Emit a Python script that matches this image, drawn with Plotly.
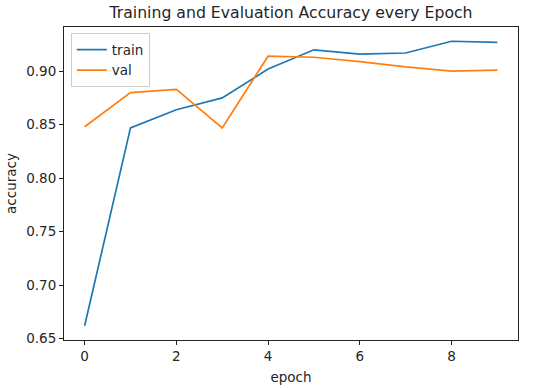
import plotly.graph_objects as go

epochs = [0, 1, 2, 3, 4, 5, 6, 7, 8, 9]
train_acc = [0.662, 0.847, 0.864, 0.875, 0.902, 0.920, 0.916, 0.917, 0.928, 0.927]
val_acc = [0.848, 0.880, 0.883, 0.847, 0.914, 0.913, 0.909, 0.904, 0.900, 0.901]
x_ticks = [0, 2, 4, 6, 8]
y_ticks = [0.65, 0.70, 0.75, 0.80, 0.85, 0.90]

FONT = "DejaVu Sans"
TXT = "#262626"

fig = go.Figure()
fig.add_trace(go.Scatter(x=epochs, y=train_acc, mode="lines", name="train",
                         line=dict(color="#1f77b4", width=1.7)))
fig.add_trace(go.Scatter(x=epochs, y=val_acc, mode="lines", name="val",
                         line=dict(color="#ff7f0e", width=1.7)))

axis_common = dict(showline=True, linecolor="#222222", linewidth=1, mirror=True,
                   ticks="outside", ticklen=4, tickcolor="#222222", tickwidth=1,
                   showgrid=False, zeroline=False, automargin=False,
                   tickfont=dict(family=FONT, size=13.5, color=TXT))

fig.update_layout(
    width=554, height=388,
    margin=dict(l=64, r=36, t=27, b=48),
    paper_bgcolor="white", plot_bgcolor="white",
    title=dict(text="Training and Evaluation Accuracy every Epoch",
               x=(64 + 518) / 2 / 554, xanchor="center", y=1 - 13 / 388, yanchor="middle",
               font=dict(family=FONT, size=15.7, color=TXT)),
    xaxis=dict(range=[-0.45, 9.45], tickvals=x_ticks,
               title=dict(text="epoch", font=dict(family=FONT, size=13.5, color=TXT), standoff=9),
               **axis_common),
    yaxis=dict(range=[0.6487, 0.9413], tickvals=y_ticks, tickformat=".2f",
               title=dict(text="accuracy", font=dict(family=FONT, size=13.5, color=TXT), standoff=6),
               **axis_common),
    legend=dict(x=0.015, y=0.98, xanchor="left", yanchor="top",
                bgcolor="rgba(255,255,255,0.8)", bordercolor="#cccccc", borderwidth=1,
                font=dict(family=FONT, size=13.5, color=TXT),
                tracegroupgap=0, itemwidth=30),
    showlegend=True,
)

fig.write_html("out.html", config={"displayModeBar": False},
               post_script="document.body.style.margin='0';document.body.style.padding='0';")
